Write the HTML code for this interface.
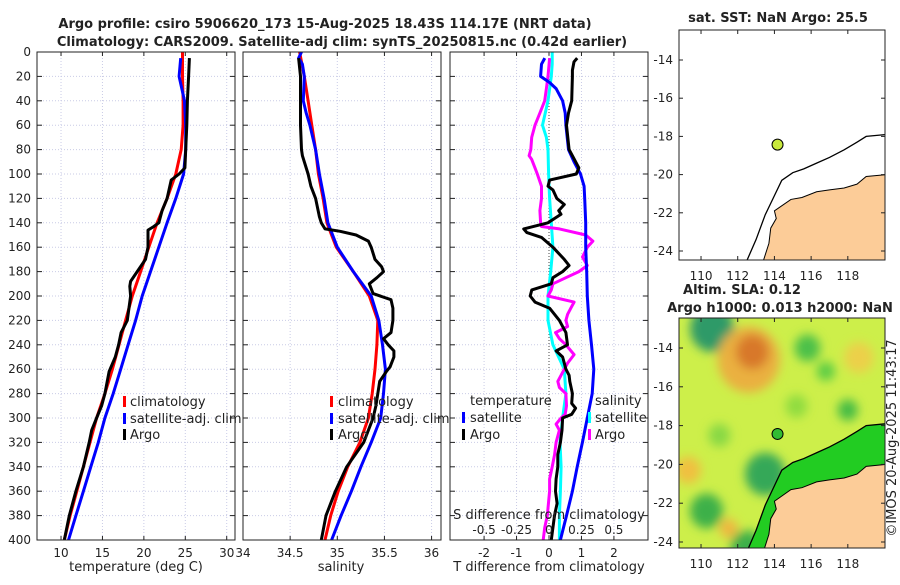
<!DOCTYPE html>
<html><head><meta charset="utf-8"><style>
body{margin:0;background:#fff;}
svg text{font-family:"DejaVu Sans","Liberation Sans",sans-serif;fill:#222;}
</style></head><body>
<svg id="chart" width="900" height="580" xmlns="http://www.w3.org/2000/svg">
<defs>
<clipPath id="cp1"><rect x="37" y="52" width="198" height="488"/></clipPath>
<clipPath id="cp2"><rect x="243" y="52" width="198" height="488"/></clipPath>
<clipPath id="cp3"><rect x="450" y="52" width="198" height="488"/></clipPath>
<clipPath id="cpm1"><rect x="679" y="30" width="206" height="230"/></clipPath>
<clipPath id="cpm2"><rect x="679" y="318" width="206" height="230"/></clipPath>
<filter id="blur" x="-50%" y="-50%" width="200%" height="200%"><feGaussianBlur stdDeviation="5"/></filter>
</defs>
<text x="325" y="28" text-anchor="middle" font-size="13" font-weight="bold">Argo profile: csiro 5906620_173 15-Aug-2025 18.43S 114.17E (NRT data)</text>
<text x="342" y="46" text-anchor="middle" font-size="13" font-weight="bold">Climatology: CARS2009. Satellite-adj clim: synTS_20250815.nc (0.42d earlier)</text>
<g id="g"></g>
</svg>
<script>
// ---- Panel 1: temperature ----
const clim_T_depth=[0,20,40,60,80,100,120,140,160,180,200,220,240,260,280,300,320,340,360,380,400];
const clim_T=[24.66,24.66,24.74,24.74,24.5,23.85,22.8,21.6,20.6,19.6,18.6,17.8,17.0,16.2,15.3,14.3,13.5,12.7,11.9,11.1,10.4];
const sat_T_depth=[5,20,40,60,80,100,120,140,160,180,200,220,240,260,280,300,320,340,360,380,400];
const sat_T=[24.45,24.25,24.9,25.05,25.05,24.8,23.85,22.8,21.8,20.8,19.8,19.0,18.1,17.2,16.3,15.3,14.5,13.6,12.7,11.8,10.9];
const argo_T_depth=[5,20,40,60,80,95,100,105,120,130,140,143,146,160,170,180,188,192,200,220,230,240,250,262,280,290,300,310,320,340,360,380,400];
const argo_T=[25.5,25.4,25.25,25.18,25.05,24.95,24.25,23.3,22.8,22.2,21.8,21.2,20.5,20.5,20.2,19.2,18.4,18.3,18.4,18.0,17.25,16.95,16.55,15.8,15.3,14.9,14.3,13.7,13.4,12.7,11.8,11.0,10.4];
// ---- Panel 2: salinity ----
const clim_S_depth=[0,20,40,60,80,100,120,140,160,180,200,220,240,260,280,300,320,340,360,380,400];
const clim_S=[34.6,34.65,34.69,34.73,34.77,34.8,34.85,34.89,34.99,35.17,35.34,35.43,35.42,35.4,35.37,35.33,35.24,35.11,35.01,34.93,34.87];
const sat_S_depth=[0,5,10,20,40,50,60,80,100,120,140,160,180,200,220,240,260,280,300,320,340,360,380,400];
const sat_S=[34.62,34.59,34.63,34.65,34.64,34.67,34.71,34.77,34.81,34.86,34.9,35.0,35.17,35.36,35.44,35.48,35.51,35.49,35.46,35.36,35.25,35.15,35.04,34.94];
const argo_S_depth=[5,20,40,60,80,85,100,110,120,135,140,145,147,150,155,160,170,176,180,185,190,198,203,210,220,230,235,240,245,250,258,262,270,280,290,300,310,320,330,340,360,380,400];
const argo_S=[34.59,34.61,34.61,34.61,34.62,34.63,34.69,34.72,34.77,34.81,34.83,34.87,35.03,35.2,35.33,35.36,35.4,35.47,35.49,35.42,35.34,35.38,35.57,35.59,35.59,35.57,35.49,35.54,35.6,35.6,35.56,35.52,35.45,35.43,35.41,35.38,35.33,35.28,35.19,35.1,34.98,34.88,34.83];
// ---- Panel 3: differences ----
const satT_diff_depth=[5,10,20,25,30,40,50,60,80,90,100,110,120,140,160,180,200,220,240,260,280,300,320,340,360,380,400];
const satT_diff=[-0.13,-0.23,-0.26,0.02,0.22,0.42,0.5,0.52,0.6,0.77,0.97,1.08,1.1,1.13,1.13,1.16,1.18,1.23,1.31,1.38,1.33,1.18,1.03,0.87,0.72,0.54,0.35];
const argoT_diff_depth=[5,8,15,20,40,50,60,80,85,95,100,105,110,113,120,125,130,133,140,145,148,152,160,170,175,180,185,190,195,200,205,210,220,230,240,245,250,255,260,265,270,280,288,292,297,300,310,320,330,340,350,360,370,380,390,400];
const argoT_diff=[0.87,0.77,0.72,0.72,0.7,0.6,0.54,0.62,0.72,0.92,0.84,0.02,-0.03,0.12,0.24,0.47,0.3,0.37,-0.03,-0.78,-0.68,-0.23,0.12,0.47,0.62,0.42,0.12,0.07,-0.53,-0.58,-0.43,0.02,0.32,0.52,0.57,0.22,0.42,0.47,0.52,0.62,0.64,0.72,0.7,0.82,0.7,0.42,0.4,0.35,0.27,0.27,0.22,0.2,0.25,0.17,0.12,0.07];
const satS_diff_depth=[0,10,20,40,60,70,80,100,120,140,160,180,200,220,240,260,280,300,320,340,360,380,400];
const satS_diff=[0.025,0.025,0.018,-0.008,-0.05,-0.02,-0.008,-0.003,0.005,0.018,0.03,0.013,-0.008,-0.008,0.03,0.118,0.13,0.105,0.085,0.093,0.088,0.08,0.08];
const argoS_diff_depth=[5,20,30,40,50,60,70,80,85,88,95,100,110,120,130,140,143,145,150,155,160,168,175,180,185,190,195,200,205,210,215,220,225,230,235,240,248,255,260,270,275,280,290,297,300,305,310,320,330,340,350,360,380,390,400];
const argoS_diff=[0.005,-0.008,-0.02,-0.033,-0.07,-0.108,-0.133,-0.14,-0.153,-0.133,-0.108,-0.09,-0.058,-0.058,-0.07,-0.065,-0.058,0.08,0.283,0.338,0.295,0.258,0.295,0.23,0.13,0.03,0.018,-0.008,0.193,0.168,0.143,0.13,0.143,0.05,0.08,0.13,0.193,0.143,0.118,0.068,0.08,0.13,0.135,0.125,0.093,0.055,0.08,0.055,0.043,0.025,0.005,0.005,-0.013,-0.033,-0.045];
// ---- axis ticks ----
const depthTicks=[0,20,40,60,80,100,120,140,160,180,200,220,240,260,280,300,320,340,360,380,400];
const tempTicks=[10,15,20,25,30];
const salTicks=[34,34.5,35,35.5,36];
const salTickLabels=["34","34.5","35","35.5","36"];
const tdiffTicks=[-2,-1,0,1,2];
const sdiffTicks=[-0.5,-0.25,0,0.25,0.5];
const sdiffTickLabels=["-0.5","-0.25","0","0.25","0.5"];
const lonTicks=[110,112,114,116,118];
const latTicks=[-14,-16,-18,-20,-22,-24];
const argoLon=[114.17], argoLat=[-18.43];

const NS="http://www.w3.org/2000/svg";
const G=document.getElementById('g');
function mk(tag,attrs,parent){const e=document.createElementNS(NS,tag);for(const k in attrs)e.setAttribute(k,attrs[k]);(parent||G).appendChild(e);return e;}
const PT=52,PB=540;
const yD=d=>PT+(d/400)*(PB-PT);
function lin(d0,d1,r0,r1){return v=>r0+(v-d0)/(d1-d0)*(r1-r0);}
const x1=lin(7.1,31.0,37,235);
const x2=lin(34.0,36.1,243,441);
const x3=lin(-3.05,3.05,450,648);
const x3s=v=>x3(v*4);

function panel(px,name,xs,ticks,labels){
  const g=mk('g',{});
  
  
  ticks.forEach(t=>{const x=xs(t);
    const l=mk('line',{x1:x,x2:x,y1:PT,y2:PB,stroke:'#c9cbe6','stroke-width':1,'stroke-dasharray':'1,2'},g);
    
    
    mk('line',{x1:x,x2:x,y1:PB,y2:PB-4,stroke:'#222'},g);mk('line',{x1:x,x2:x,y1:PT,y2:PT+4,stroke:'#222'},g);});
  depthTicks.forEach(d=>{const y=yD(d);
    const l=mk('line',{x1:px,x2:px+198,y1:y,y2:y,stroke:'#c9cbe6','stroke-width':1,'stroke-dasharray':'1,2'},g);
    
    
    mk('line',{x1:px,x2:px+5,y1:y,y2:y,stroke:'#222'},g);mk('line',{x1:px+198,x2:px+193,y1:y,y2:y,stroke:'#222'},g);});
  ticks.forEach((t,i)=>{const tx=mk('text',{x:xs(t),y:PB+17,'text-anchor':'middle','font-size':12},g);tx.textContent=labels[i];
    
    });
  return g;
}
function line(name,xs,depths,vals,color,clip,w){
  const p=mk('polyline',{points:depths.map((d,i)=>xs(vals[i]).toFixed(1)+','+yD(d).toFixed(1)).join(' '),fill:'none',stroke:color,'stroke-width':w||3,'stroke-linejoin':'round','clip-path':'url(#'+clip+')'});
  
  
}
function frame(px){const r=mk('rect',{x:px,y:PT,width:198,height:PB-PT,fill:'none',stroke:'#222','stroke-width':1});
  
  }
function txt(name,x,y,s,size,anchor,extra){const t=mk('text',Object.assign({x:x,y:y,'font-size':size||13,'text-anchor':anchor||'start'},extra||{}));t.textContent=s;
  
  return t;}
function legendMark(name,x,y,color){const r=mk('rect',{x:x,y:y-10,width:3,height:11,fill:color});
  
  }

// panel 1
panel(37,'temperature-panel',x1,tempTicks,tempTicks.map(String));
depthTicks.forEach(d=>{txt('y-tick-label',31,yD(d)+4,String(d),12,'end');});
line('climatology-temperature-line',x1,clim_T_depth,clim_T,'#ff0000','cp1');
line('satellite-temperature-line',x1,sat_T_depth,sat_T,'#0000ff','cp1');
line('argo-temperature-line',x1,argo_T_depth,argo_T,'#000','cp1');
frame(37);
txt('x-axis-title-temperature',136,571,'temperature (deg C)',13,'middle');
legendMark('legend-mark-climatology',123,406,'#ff0000');txt('legend-entry-climatology',130,406,'climatology');
legendMark('legend-mark-satellite',123,423,'#0000ff');txt('legend-entry-satellite',130,423,'satellite-adj. clim');
legendMark('legend-mark-argo',123,439,'#000');txt('legend-entry-argo',130,439,'Argo');
// panel 2
panel(243,'salinity-panel',x2,salTicks,salTickLabels);
line('climatology-salinity-line',x2,clim_S_depth,clim_S,'#ff0000','cp2');
line('satellite-salinity-line',x2,sat_S_depth,sat_S,'#0000ff','cp2');
line('argo-salinity-line',x2,argo_S_depth,argo_S,'#000','cp2');
frame(243);
txt('x-axis-title-salinity',341,571,'salinity',13,'middle');
legendMark('legend-mark-climatology',330,406,'#ff0000');txt('legend-entry-climatology',338,406,'climatology');
legendMark('legend-mark-satellite',330,423,'#0000ff');txt('legend-entry-satellite',338,423,'satellite-adj. clim');
legendMark('legend-mark-argo',330,439,'#000');txt('legend-entry-argo',338,439,'Argo');
// panel 3
panel(450,'difference-panel',x3,tdiffTicks,tdiffTicks.map(String));
const z=mk('line',{x1:x3(0),x2:x3(0),y1:PT,y2:PB,stroke:'#444','stroke-dasharray':'1,2'});


line('satellite-salinity-diff-line',x3s,satS_diff_depth,satS_diff,'#00ffff','cp3');
line('argo-salinity-diff-line',x3s,argoS_diff_depth,argoS_diff,'#ff00ff','cp3');
line('satellite-temperature-diff-line',x3,satT_diff_depth,satT_diff,'#0000ff','cp3');
line('argo-temperature-diff-line',x3,argoT_diff_depth,argoT_diff,'#000','cp3');
frame(450);
txt('x-axis-title-tdiff',549,571,'T difference from climatology',13,'middle');
txt('secondary-axis-title-sdiff',549,519,'S difference from climatology',13,'middle');
sdiffTicks.forEach((t,i)=>{txt('s-diff-tick-label',x3s(t),534,sdiffTickLabels[i],12,'middle');});
txt('legend-title-temperature',470,405,'temperature');
legendMark('legend-mark-sat-temp',462,422,'#0000ff');txt('legend-entry-sat-temp',470,422,'satellite');
legendMark('legend-mark-argo-temp',462,439,'#000');txt('legend-entry-argo-temp',470,439,'Argo');
txt('legend-title-salinity',595,405,'salinity');
legendMark('legend-mark-sat-sal',588,422,'#00ffff');txt('legend-entry-sat-sal',595,422,'satellite');
legendMark('legend-mark-argo-sal',588,439,'#ff00ff');txt('legend-entry-argo-sal',595,439,'Argo');

// ---- maps ----
const mx=lon=>679+(lon-108.8)*18.35;
const landLon=[113.4,113.7,113.8,114.1,114.0,114.3,114.9,115.5,116.3,117.0,117.8,118.5,119.0,120.1,120.1,113.4];
const landLat=[-24.5,-23.6,-22.8,-22.3,-21.9,-21.7,-21.3,-21.2,-20.9,-20.8,-20.7,-20.5,-20.1,-20.0,-24.5,-24.5];
const shelfLon=[112.5,113.0,113.5,114.0,114.4,115.0,115.6,116.3,117.0,117.8,118.5,119.0,120.1];
const shelfLat=[-24.5,-23.4,-22.1,-21.1,-20.3,-19.9,-19.7,-19.4,-19.1,-18.7,-18.3,-18.0,-17.9];
function map(top,y14,pxdeg,name,clip,field){
  const my=lat=>y14+(-14-lat)*pxdeg;
  const g=mk('g',{});
  
  
  mk('rect',{x:679,y:top,width:206,height:230,fill:field?'#cdef4a':'#fff'},g);
  const cg=mk('g',{'clip-path':'url(#'+clip+')'},g);
  if(field){
    const blobs=[[110.6,-13.0,'#2f9a68',1.2],[112.6,-14.6,'#eab040',1.7],[112.8,-14.2,'#d8782a',0.9],[115.8,-14.0,'#4cc048',0.7],[116.8,-15.2,'#5ccc44',0.5],[118.0,-17.2,'#44bb44',0.55],[118.6,-14.5,'#ecd048',0.8],[113.5,-20.5,'#36a858',1.1],[110.3,-22.4,'#3cb048',0.9],[112.5,-24.3,'#3cb048',0.9],[109.3,-20.3,'#f0c040',0.7],[111.5,-23.3,'#f0b640',0.5],[111.0,-18.5,'#88d844',0.6],[115.2,-17.0,'#90dc40',0.6]];
    const bg=mk('g',{filter:'url(#blur)'},cg);
    blobs.forEach(b=>{mk('ellipse',{cx:mx(b[0]),cy:my(b[1]),rx:b[3]*18.35,ry:b[3]*pxdeg,fill:b[2]},bg);});
    mk('polygon',{points:shelfLon.map((l,i)=>mx(l)+','+my(shelfLat[i])).join(' ')+' '+mx(120.1)+','+my(-24.5),fill:'#22cc22'},cg);
  }
  const land=mk('polygon',{points:landLon.map((l,i)=>mx(l)+','+my(landLat[i])).join(' '),fill:'#fccc98',stroke:'#000','stroke-width':1},cg);
  
  
  const sh=mk('polyline',{points:shelfLon.map((l,i)=>mx(l)+','+my(shelfLat[i])).join(' '),fill:'none',stroke:'#000','stroke-width':1.3},cg);
  
  
  const dot=mk('circle',{cx:mx(argoLon[0]),cy:my(argoLat[0]),r:5.5,fill:field?'#33bb33':'#c8e83c',stroke:'#000','stroke-width':1},g);
  
  
  mk('rect',{x:679,y:top,width:206,height:230,fill:'none',stroke:'#222'},g);
  lonTicks.forEach(l=>{const x=mx(l);mk('line',{x1:x,x2:x,y1:top+230,y2:top+226,stroke:'#222'},g);mk('line',{x1:x,x2:x,y1:top,y2:top+4,stroke:'#222'},g);
    txt('lon-tick-label',x,top+250,String(l),12,'middle');});
  latTicks.forEach(l=>{const y=my(l);mk('line',{x1:679,x2:683,y1:y,y2:y,stroke:'#222'},g);mk('line',{x1:885,x2:881,y1:y,y2:y,stroke:'#222'},g);
    txt('lat-tick-label',673,y+4,String(l),12,'end');});
}
map(30,60,19.1,'sst-map','cpm1',false);
map(318,348,19.4,'sla-map','cpm2',true);
txt('sst-map-title',778,22,'sat. SST: NaN Argo: 25.5',13,'middle',{'font-weight':'bold'});
txt('sla-map-title-1',742,294,'Altim. SLA: 0.12',13,'middle',{'font-weight':'bold'});
txt('sla-map-title-2',780,312,'Argo h1000: 0.013 h2000: NaN',13,'middle',{'font-weight':'bold'});
txt('timestamp',896,438,'©IMOS 20-Aug-2025 11:43:17',13,'middle',{transform:'rotate(-90 896 438)'});
</script>
</body></html>
